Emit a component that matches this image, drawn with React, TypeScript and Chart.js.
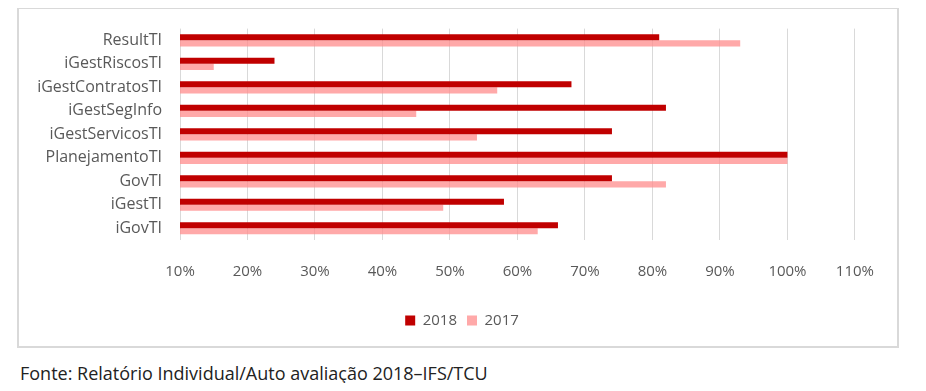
import React, { useEffect, useRef } from "react";
import { Chart, registerables } from "chart.js";

Chart.register(...registerables);

const categories = [
  "ResultTI",
  "iGestRiscosTI",
  "iGestContratosTI",
  "iGestSegInfo",
  "iGestServicosTI",
  "PlanejamentoTI",
  "GovTI",
  "iGestTI",
  "iGovTI",
];
const values2018 = [81, 24, 68, 82, 74, 100, 74, 58, 66];
const values2017 = [93, 15, 57, 45, 54, 100, 82, 49, 63];
const tickValues = [10, 20, 30, 40, 50, 60, 70, 80, 90, 100, 110];
const sourceText = "Fonte: Relatório Individual/Auto avaliação 2018–IFS/TCU";

const FONT = "'Open Sans', sans-serif";

const legendShift = {
  id: "legendShift",
  afterLayout(chart: any) {
    const lg = chart.legend;
    if (lg) {
      lg.left += 24.5;
      lg.right += 24.5;
    }
  },
};

export default function App() {
  const ref = useRef<HTMLCanvasElement | null>(null);

  useEffect(() => {
    if (!ref.current) return;
    const chart = new Chart(ref.current, {
      type: "bar",
      data: {
        labels: categories,
        datasets: [
          {
            label: "2018",
            data: values2018,
            backgroundColor: "#C00000",
            barPercentage: 1,
            categoryPercentage: 0.52,
          },
          {
            label: "2017",
            data: values2017,
            backgroundColor: "rgba(255,140,140,0.75)",
            barPercentage: 1,
            categoryPercentage: 0.52,
          },
        ],
      },
      options: {
        indexAxis: "y",
        animation: false,
        responsive: false,
        maintainAspectRatio: false,
        layout: { padding: { top: 10, right: 41, bottom: 8, left: 0 } },
        plugins: {
          tooltip: { enabled: false },
          legend: {
            position: "bottom",
            labels: {
              boxWidth: 10,
              boxHeight: 10,
              padding: 10,
              color: "#595959",
              font: { family: FONT, size: 15 },
            },
          },
        },
        scales: {
          x: {
            min: 10,
            max: 110,
            afterBuildTicks: (scale: any) => {
              scale.ticks = tickValues.map((v) => ({ value: v }));
            },
            afterFit: (scale: any) => {
              scale.height = 63;
            },
            grid: { color: "#d9d9d9", drawTicks: false },
            border: { display: false },
            ticks: {
              padding: 23,
              color: "#595959",
              font: { family: FONT, size: 15 },
              callback: (v: any) => v + "%",
            },
          },
          y: {
            afterFit: (scale: any) => {
              scale.width = 161;
            },
            grid: { display: false },
            border: { display: false },
            ticks: {
              padding: 10,
              color: "#595959",
              font: { family: FONT, size: 16 },
            },
          },
        },
      },
      plugins: [legendShift],
    });
    return () => chart.destroy();
  }, []);

  return (
    <div style={{ position: "relative", width: 910, height: 375, fontFamily: FONT }}>
      <div
        style={{
          position: "absolute",
          left: 9,
          top: 0,
          width: 878,
          height: 337,
          borderTop: "1px solid #d9d9d9",
          borderLeft: "2px solid #d9d9d9",
          borderRight: "2px solid #d9d9d9",
          borderBottom: "2px solid #d9d9d9",
        }}
      >
        <canvas ref={ref} width={878} height={337} style={{ display: "block" }} />
      </div>
      <div
        style={{
          position: "absolute",
          left: 12,
          top: 353,
          fontSize: 18,
          color: "#222222",
          whiteSpace: "nowrap",
        }}
      >
        {sourceText}
      </div>
    </div>
  );
}
